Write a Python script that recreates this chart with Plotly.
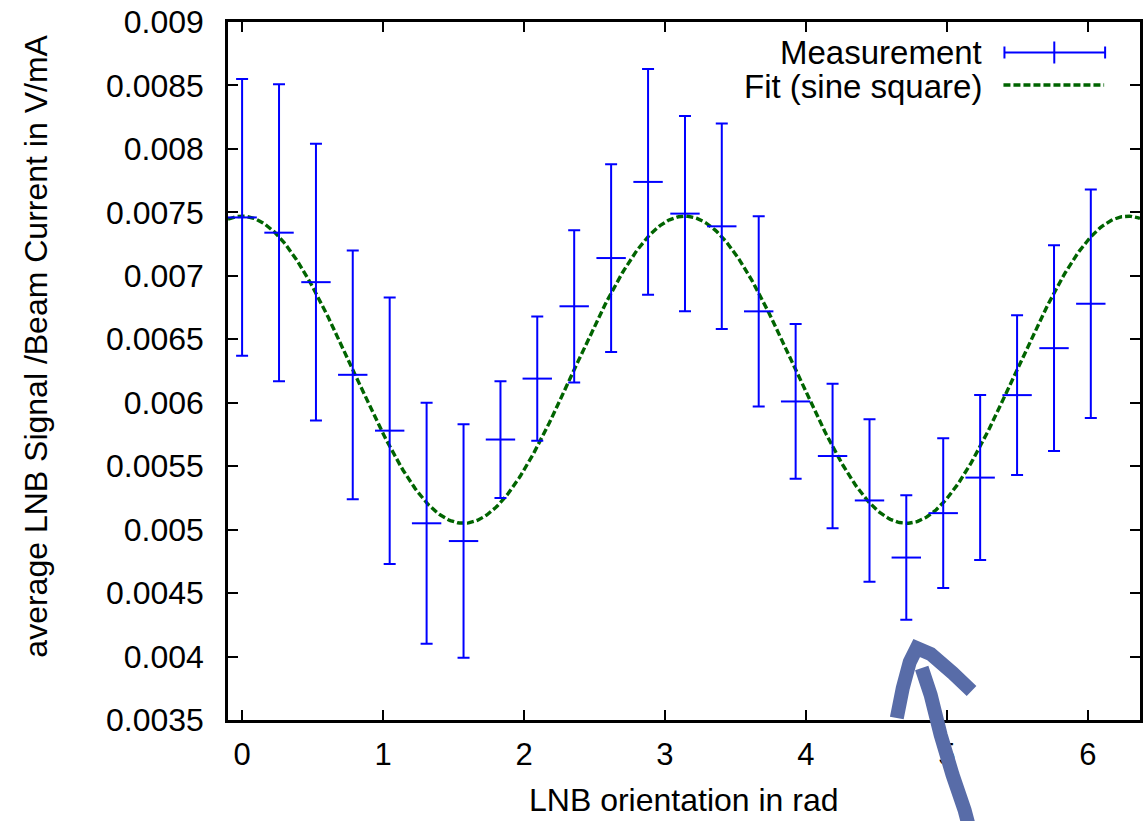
import numpy as np
import plotly.graph_objects as go

# ---------------- data ----------------
angle_rad = [0.000, 0.262, 0.524, 0.785, 1.047, 1.309, 1.571, 1.833, 2.094, 2.356,
             2.618, 2.880, 3.142, 3.403, 3.665, 3.927, 4.189, 4.451, 4.712, 4.974,
             5.236, 5.498, 5.760, 6.021]
signal = [0.00746, 0.00734, 0.00695, 0.00622, 0.00578, 0.00505, 0.00491, 0.00571,
          0.00619, 0.00676, 0.00714, 0.00774, 0.00749, 0.00739, 0.00672, 0.00601,
          0.00558, 0.00523, 0.00478, 0.00513, 0.00541, 0.00606, 0.00643, 0.00678]
signal_err = [0.00109, 0.00117, 0.00109, 0.00098, 0.00105, 0.00095, 0.00092, 0.00046,
              0.00049, 0.00060, 0.00074, 0.00089, 0.00077, 0.00081, 0.00075, 0.00061,
              0.00057, 0.00064, 0.00049, 0.00059, 0.00065, 0.00063, 0.00081, 0.00090]

# fit parameters (sine square):  f(x) = fit_offset + fit_amp * cos^2(x - fit_phase)
fit_offset = 0.00505
fit_amp = 0.00242
fit_phase = 0.0

x_tickvals = [0, 1, 2, 3, 4, 5, 6]
x_ticktext = ["0", "1", "2", "3", "4", "5", "6"]
y_tickvals = [0.0035, 0.004, 0.0045, 0.005, 0.0055, 0.006, 0.0065, 0.007, 0.0075,
              0.008, 0.0085, 0.009]
y_ticktext = ["0.0035", "0.004", "0.0045", "0.005", "0.0055", "0.006", "0.0065",
              "0.007", "0.0075", "0.008", "0.0085", "0.009"]

x_range = [-0.1, 6.37]
y_range = [0.0035, 0.009]

legend_labels = ["Measurement", "Fit (sine square)"]
x_title = "LNB orientation in rad"
y_title = "average LNB Signal /Beam Current in V/mA"

# ---------------- layout geometry ----------------
W, H = 1143, 821
L, R, T, B = 228, 0, 22, 101
PX0, PX1 = L, W - R
PY0, PY1 = T, H - B

FONT = "Liberation Sans, Arial, Helvetica, sans-serif"
BLUE = "#0000ff"
GREEN = "#006400"
ARROW = "rgb(88,108,168)"


def px(xp):
    return (xp - PX0) / (PX1 - PX0)


def py(yp):
    return (PY1 - yp) / (PY1 - PY0)


fit_x = np.linspace(x_range[0], x_range[1], 600)
fit_y = fit_offset + fit_amp * np.cos(fit_x - fit_phase) ** 2

fig = go.Figure()

fig.add_trace(go.Scatter(
    x=fit_x, y=fit_y, mode="lines",
    line=dict(color=GREEN, width=3.4, dash="7px,3px"),
    showlegend=False, hoverinfo="skip",
))

fig.add_trace(go.Scatter(
    x=angle_rad, y=signal, mode="markers",
    marker=dict(symbol="line-ew", size=21, color=BLUE,
                line=dict(width=2, color=BLUE)),
    error_y=dict(type="data", array=signal_err, visible=True,
                 color=BLUE, thickness=2, width=6),
    showlegend=False,
))

axis_common = dict(
    showline=True, linecolor="black", linewidth=2.5, mirror="ticks",
    ticks="inside", ticklen=10, tickwidth=2, tickcolor="black",
    showgrid=False, zeroline=False,
)

fig.update_xaxes(range=x_range, tickvals=x_tickvals, ticktext=x_ticktext,
                 ticklabelstandoff=5,
                 tickfont=dict(family=FONT, size=31, color="black"),
                 **axis_common)
fig.update_yaxes(range=y_range, tickvals=y_tickvals, ticktext=y_ticktext,
                 ticklabelstandoff=15,
                 tickfont=dict(family=FONT, size=32, color="black"),
                 **axis_common)

annotations = [
    dict(text=x_title, xref="paper", yref="paper", x=px(685), y=py(800),
         xanchor="center", yanchor="middle", showarrow=False,
         font=dict(family=FONT, size=32, color="black")),
    dict(text=y_title, xref="paper", yref="paper", x=px(35), y=py(346),
         xanchor="center", yanchor="middle", textangle=-90, showarrow=False,
         font=dict(family=FONT, size=32, color="black")),
    dict(text=legend_labels[0], xref="paper", yref="paper", x=px(986), y=py(52),
         xanchor="right", yanchor="middle", showarrow=False,
         font=dict(family=FONT, size=33, color="black")),
    dict(text=legend_labels[1], xref="paper", yref="paper", x=px(986), y=py(86),
         xanchor="right", yanchor="middle", showarrow=False,
         font=dict(family=FONT, size=33, color="black")),
]

shapes = []
# legend sample: measurement (error bar)
ly = 52.5
shapes.append(dict(type="line", xref="paper", yref="paper",
                   x0=px(1007), x1=px(1108), y0=py(ly), y1=py(ly),
                   line=dict(color=BLUE, width=2)))
for xe in (1007, 1108):
    shapes.append(dict(type="line", xref="paper", yref="paper",
                       x0=px(xe), x1=px(xe), y0=py(ly - 6), y1=py(ly + 6),
                       line=dict(color=BLUE, width=2)))
shapes.append(dict(type="line", xref="paper", yref="paper",
                   x0=px(1057), x1=px(1057), y0=py(ly - 11), y1=py(ly + 11),
                   line=dict(color=BLUE, width=2)))
# legend sample: fit (dashed)
shapes.append(dict(type="line", xref="paper", yref="paper",
                   x0=px(1006), x1=px(1107), y0=py(85), y1=py(85),
                   line=dict(color=GREEN, width=3.4, dash="7px,3px")))


# hand-drawn arrow overlay
def pth(points):
    s = "M " + " L ".join(f"{px(a):.5f},{py(b):.5f}" for a, b in points)
    return s


arrow_head = [(899, 718), (905, 688), (912, 662), (919, 648), (933, 654), (955, 673), (974, 691)]
arrow_shaft = [(924, 668), (933, 695), (943, 735), (955, 775), (967, 810), (971, 825)]
for pts in (arrow_head, arrow_shaft):
    shapes.append(dict(type="path", xref="paper", yref="paper", path=pth(pts),
                       line=dict(color=ARROW, width=14), layer="above"))

fig.update_layout(
    width=W, height=H,
    margin=dict(l=L, r=R, t=T, b=B, pad=0),
    paper_bgcolor="white", plot_bgcolor="white",
    font=dict(family=FONT, size=32, color="black"),
    annotations=annotations, shapes=shapes,
    showlegend=False,
)

fig.write_html("out.html",
               config={"displayModeBar": False},
               post_script="document.body.style.margin='0px';"
                           "document.body.style.overflow='hidden';")
